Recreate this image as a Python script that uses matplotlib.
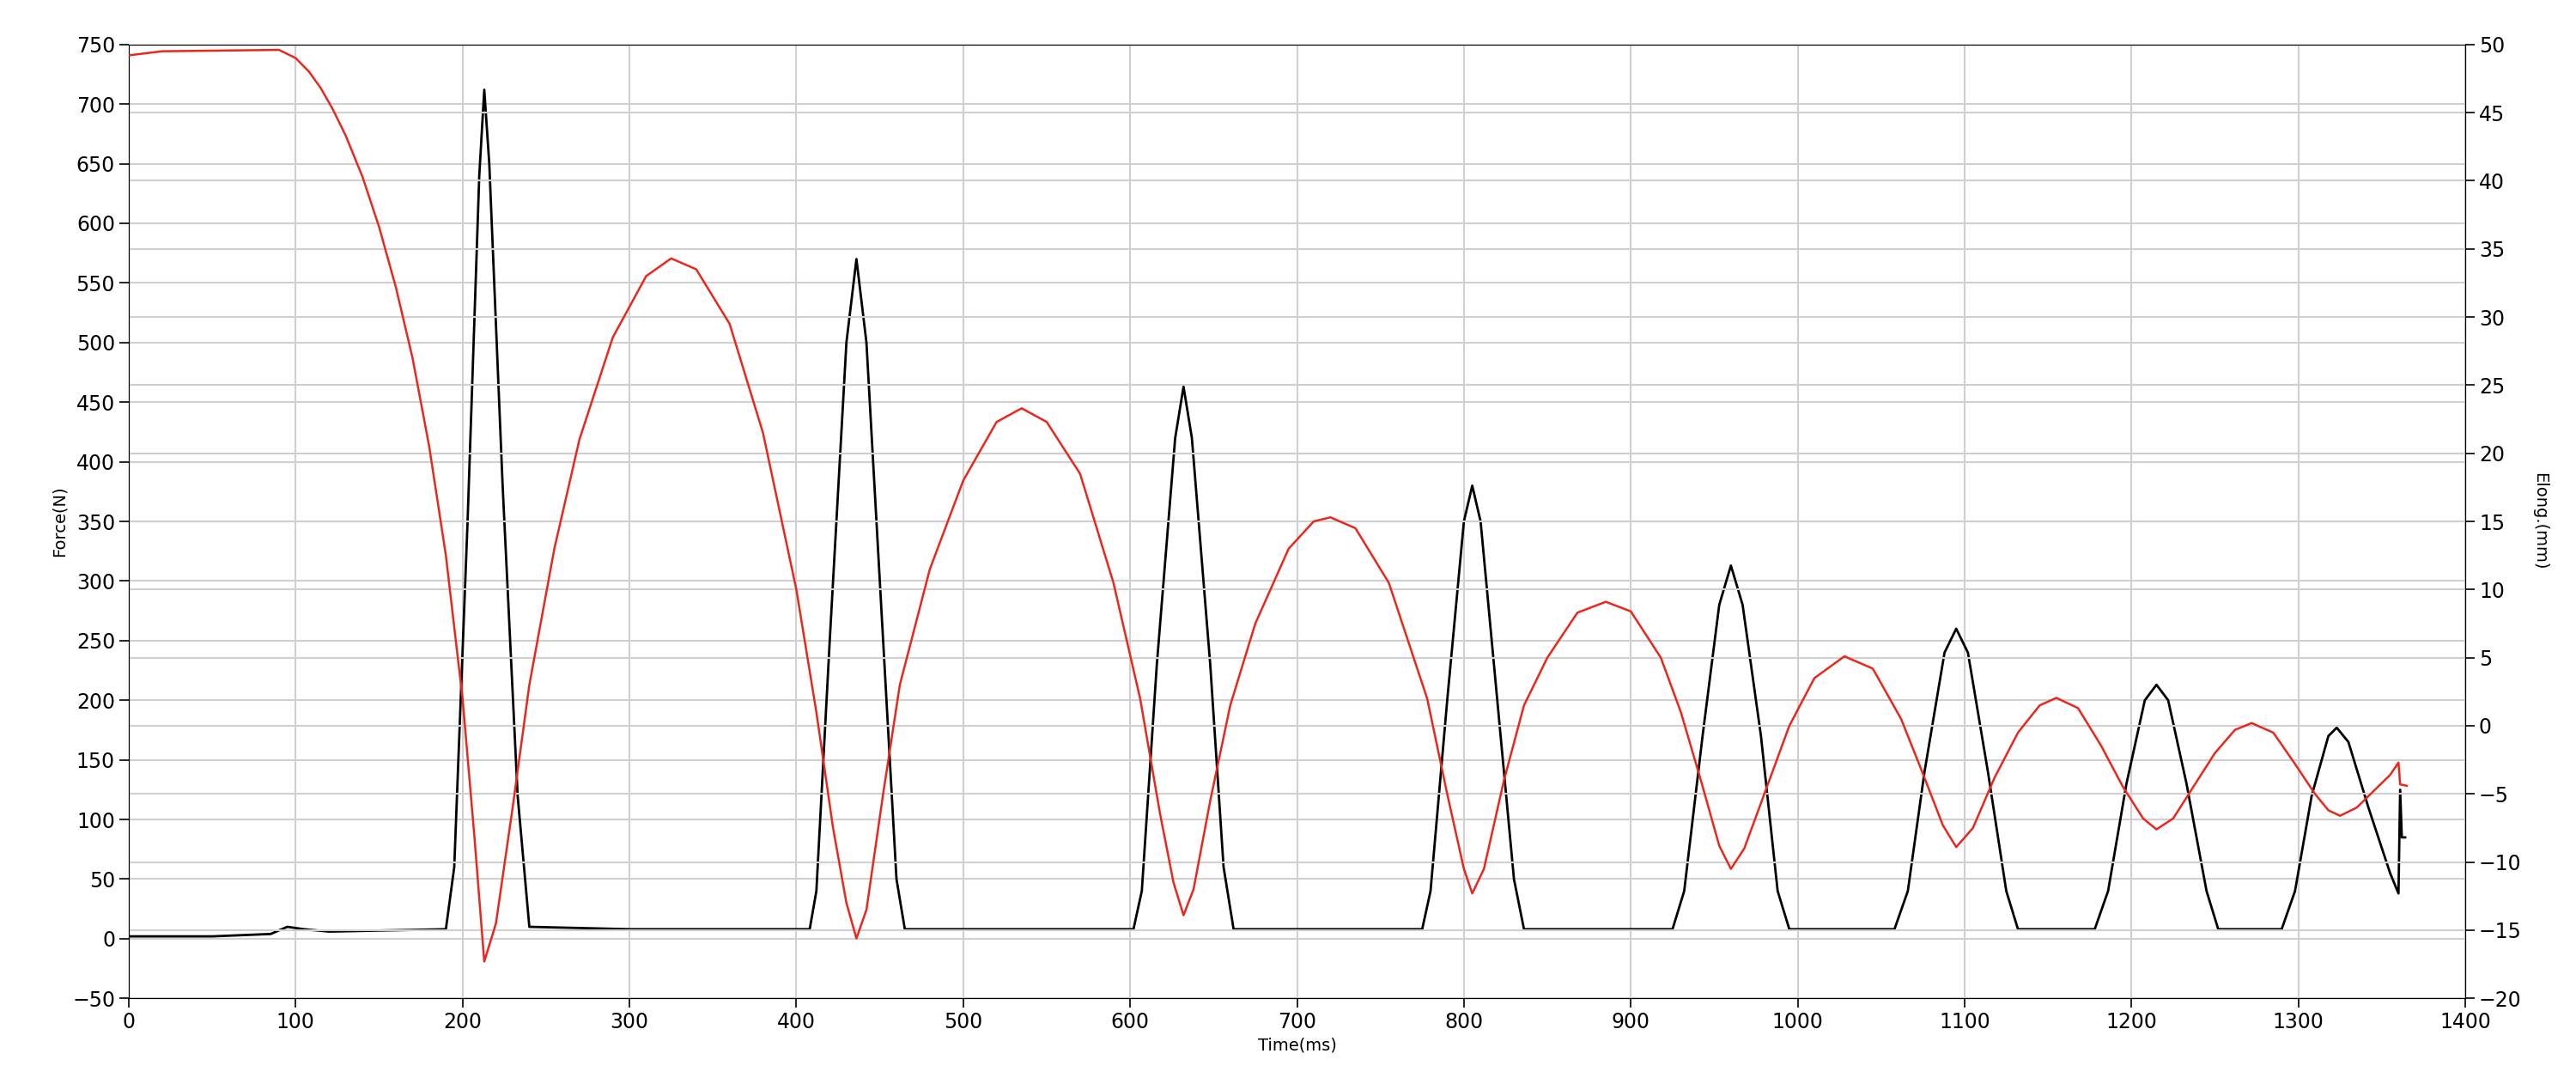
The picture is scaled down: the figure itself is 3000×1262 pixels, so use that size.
import matplotlib
matplotlib.use("Agg")
import matplotlib.pyplot as plt
import numpy as np

force_t = [0,50,85,95,105,120,190,195,203,210,213,216,224,233,240,300,408,412,420,430,436,442,452,460,465,
           602,607,616,627,632,637,648,656,662,775,780,790,800,805,810,820,830,836,925,932,943,953,960,967,978,988,995,
           1058,1066,1076,1088,1095,1102,1114,1125,1132,1178,1186,1197,1208,1215,1222,1233,1245,1252,
           1290,1298,1308,1318,1323,1330,1342,1355,1360,1361,1362,1364]
force_v = [2,2,4,10,8,6,8,60,350,640,712,650,380,120,10,8,8,40,250,500,570,500,250,50,8,
           8,40,230,420,463,420,230,60,8,8,40,200,350,380,350,200,50,8,8,40,170,280,313,280,170,40,8,
           8,40,140,240,260,240,140,40,8,8,40,130,200,213,200,130,40,8,
           8,40,120,170,177,165,110,55,38,125,85,85]

elong_t = [0,20,90,100,108,115,122,130,140,150,160,170,180,190,200,207,213,220,230,240,255,270,290,310,325,
           340,360,380,400,412,422,430,436,442,452,462,480,500,520,535,
           550,570,590,606,618,626,632,638,648,660,675,695,710,720,
           735,755,778,790,800,805,812,824,836,850,868,885,
           900,918,930,942,953,960,968,980,995,1010,1028,
           1045,1062,1075,1087,1095,1105,1118,1132,1145,1155,
           1168,1182,1195,1207,1215,1225,1238,1250,1262,1272,
           1285,1298,1310,1318,1325,1335,1345,1355,1360,1361,1365]
elong_v = [49.2,49.5,49.6,49.0,48.0,46.8,45.3,43.3,40.3,36.6,32.2,27,20.5,12.5,2,-8,-17.3,-14.5,-6,3,13,21,28.5,33,34.3,
           33.5,29.5,21.5,10,1,-7.5,-13,-15.6,-13.5,-5,3,11.5,18,22.3,23.3,
           22.3,18.5,10.5,2,-6.5,-11.5,-13.9,-12,-5.5,1.5,7.5,13,15,15.3,
           14.5,10.5,2,-5,-10.5,-12.3,-10.5,-4,1.5,5,8.3,9.1,
           8.4,5,1,-4,-8.8,-10.5,-9,-5,0,3.5,5.1,
           4.2,0.5,-3.5,-7.3,-8.9,-7.5,-3.8,-0.5,1.5,2.05,
           1.3,-1.5,-4.5,-6.8,-7.6,-6.8,-4.3,-2,-0.3,0.2,
           -0.5,-2.8,-5,-6.2,-6.6,-6,-4.8,-3.6,-2.7,-4.3,-4.4]

fig = plt.figure(figsize=(30, 12.62), dpi=100)
ax = fig.add_axes([0.05, 0.079, 0.907, 0.88])
ax2 = ax.twinx()

ax.set_xlim(0, 1400)
ax.set_ylim(-50, 750)
ax2.set_ylim(-20, 50)
ax.set_xticks(np.arange(0, 1401, 100))
ax.set_yticks(np.arange(-50, 751, 50))
ax2.set_yticks(np.arange(-20, 51, 5))

ax.grid(True, color="#d0d0d0", linewidth=1.5)
ax2.grid(True, axis="y", color="#d0d0d0", linewidth=1.5)
ax.set_axisbelow(True)
ax2.set_axisbelow(True)

ax.plot(force_t, force_v, color="black", linewidth=2.0, zorder=3)
ax2.plot(elong_t, elong_v, color="#e8281e", linewidth=1.8, zorder=3)

for a in (ax, ax2):
    a.tick_params(labelsize=17, length=8, width=1.2)
ax.set_xlabel("Time(ms)", fontsize=14)
ax.set_ylabel("Force(N)", fontsize=14)
ax2.set_ylabel("Elong.(mm)", fontsize=14, rotation=270, labelpad=22)

fig.savefig("out.png", dpi=100)
